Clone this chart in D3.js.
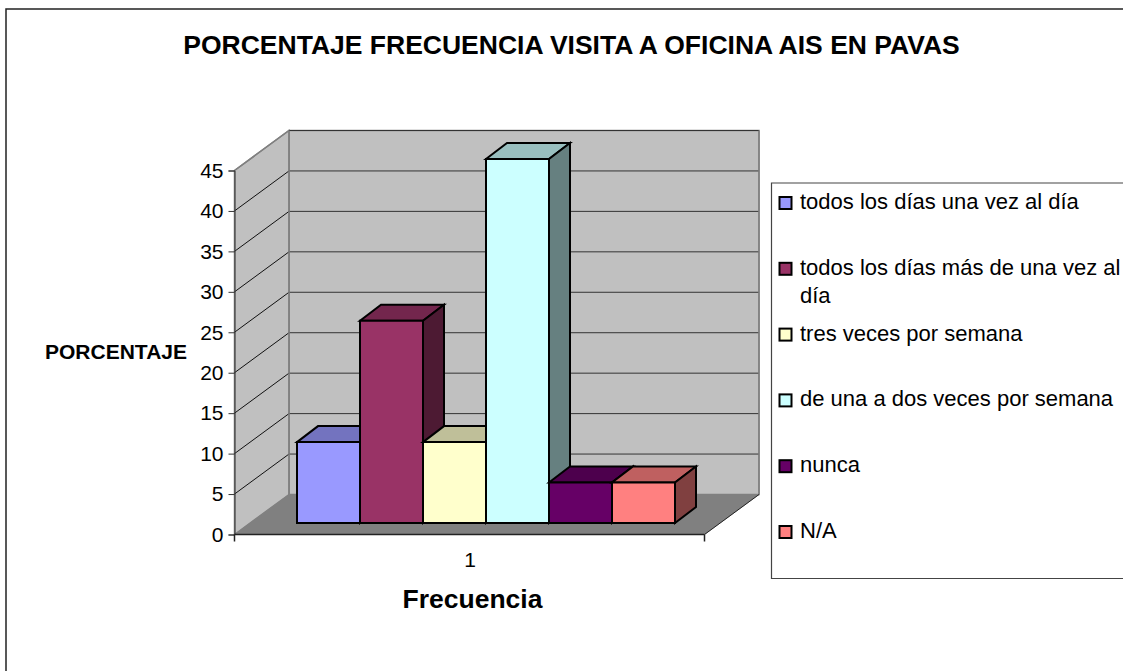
<!DOCTYPE html>
<html>
<head>
<meta charset="utf-8">
<title>Porcentaje frecuencia visita</title>
<script src="https://cdnjs.cloudflare.com/ajax/libs/d3/7.8.5/d3.min.js"></script>
<style>
html, body { margin: 0; padding: 0; background: #fff; overflow: hidden; }
text { font-family: "Liberation Sans", Arial, sans-serif; fill: #000; }
</style>
</head>
<body>
<script>
(function(){

//chart values
var seriesNames = ["todos los días una vez al día", "todos los días más de una vez al día", "tres veces por semana", "de una a dos veces por semana", "nunca", "N/A"];
var seriesValues = [10, 25, 10, 45, 5, 5];
var seriesColors = ["#9999ff", "#993366", "#ffffcc", "#ccffff", "#660066", "#ff8080"];
var topColors = ["#7373bf", "#73264d", "#bfbf99", "#99bfbf", "#4d004d", "#bf6060"];
var sideColors = ["#4d4d80", "#4d1a33", "#808066", "#668080", "#330033", "#804040"];
var yTicks = [0, 5, 10, 15, 20, 25, 30, 35, 40, 45];
var categories = ["1"];

var width = 1123,
    height = 671;

//front plane of the 3d box and how far the walls go back
var plot = {left: 234.5, right: 704.5, bottom: 534.5, top: 170.5, depthX: 54.5, depthY: -40};
//bars stand inside the box, a little behind the front plane
var bar = {left: 297, right: 675, bottom: 523, depthX: 21, depthY: -16};

var svg = d3.select("body")
    .append("svg")
    .attr("width", width)
    .attr("height", height)
    .style("display", "block");

var y = d3.scaleLinear().domain([0, 45]).range([plot.bottom, plot.top]);
//same scale, moved up to where the bars stand
var barY = d3.scaleLinear().domain([0, 45]).range([bar.bottom, bar.bottom - (plot.bottom - plot.top)]);
var x = d3.scaleBand().domain(seriesNames).range([bar.left, bar.right]);
var xCat = d3.scalePoint().domain(categories).range([plot.left, plot.right]).padding(0.5);

function poly(points, fill, stroke, sw){
    return svg.append("polygon")
        .attr("points", points.map(function(p){ return p.join(","); }).join(" "))
        .attr("fill", fill)
        .attr("stroke", stroke)
        .attr("stroke-width", sw);
}

//outer frame, only the top and left show in the picture
svg.append("path")
    .attr("d", "M6,671V9H1123")
    .attr("fill", "none")
    .attr("stroke", "#222")
    .attr("stroke-width", 1.5);

drawBox();
drawAxis();
drawBars();
drawLegend();
drawTitles();

function drawBox(){
    var dx = plot.depthX, dy = plot.depthY;
    //back wall
    poly([[plot.left + dx, plot.top + dy], [plot.right + dx, plot.top + dy], [plot.right + dx, plot.bottom + dy], [plot.left + dx, plot.bottom + dy]], "#c0c0c0", "#808080", 1.5);
    //side wall
    poly([[plot.left, plot.top], [plot.left + dx, plot.top + dy], [plot.left + dx, plot.bottom + dy], [plot.left, plot.bottom]], "#c0c0c0", "#808080", 1.5);

    //gridlines on both walls
    yTicks.slice(1).forEach(function(t){
        var py = y(t);
        svg.append("line").attr("x1", plot.left + dx).attr("x2", plot.right + dx)
            .attr("y1", py + dy).attr("y2", py + dy)
            .attr("stroke", "#333").attr("stroke-width", 1);
        if (t < 45) {
            svg.append("line").attr("x1", plot.left).attr("x2", plot.left + dx)
                .attr("y1", py).attr("y2", py + dy)
                .attr("stroke", "#111").attr("stroke-width", 1);
        }
    });
    svg.append("line").attr("x1", plot.left).attr("x2", plot.left + dx)
        .attr("y1", y(45)).attr("y2", y(45) + dy)
        .attr("stroke", "#808080").attr("stroke-width", 1.5);
    //redraw the back corners over the gridlines
    svg.append("line").attr("x1", plot.left + dx).attr("x2", plot.left + dx)
        .attr("y1", plot.top + dy).attr("y2", plot.bottom + dy)
        .attr("stroke", "#808080").attr("stroke-width", 1.5);
    svg.append("line").attr("x1", plot.right + dx).attr("x2", plot.right + dx)
        .attr("y1", plot.top + dy).attr("y2", plot.bottom + dy)
        .attr("stroke", "#808080").attr("stroke-width", 1.5);

    //floor
    poly([[plot.left, plot.bottom], [plot.left + dx, plot.bottom + dy], [plot.right + dx, plot.bottom + dy], [plot.right, plot.bottom]], "#808080", "#808080", 0.5);
    svg.append("line").attr("x1", plot.right).attr("x2", plot.right + dx)
        .attr("y1", plot.bottom).attr("y2", plot.bottom + dy)
        .attr("stroke", "#222").attr("stroke-width", 1);
}

function drawAxis(){
    var yAxis = d3.axisLeft(y).tickValues(yTicks).tickSize(6).tickPadding(5).tickFormat(d3.format("d"));
    var gy = svg.append("g")
        .attr("transform", "translate(" + plot.left + ",0)")
        .call(yAxis);
    gy.select(".domain").attr("stroke", "#333");
    gy.selectAll(".tick line").attr("stroke", "#333");
    gy.selectAll("text").attr("font-size", 21).attr("font-family", "Liberation Sans");

    var xAxis = d3.axisBottom(xCat).tickSize(0).tickPadding(18);
    var gx = svg.append("g")
        .attr("transform", "translate(0," + plot.bottom + ")")
        .call(xAxis);
    gx.select(".domain").remove();
    gx.selectAll("text").attr("font-size", 21).attr("font-family", "Liberation Sans");

    //bottom front edge with its end ticks
    svg.append("path")
        .attr("d", "M" + plot.left + "," + plot.bottom + "H" + plot.right + "M" + plot.left + "," + plot.bottom + "v7M" + plot.right + "," + plot.bottom + "v7")
        .attr("fill", "none")
        .attr("stroke", "#222")
        .attr("stroke-width", 1.5);
}

function drawBars(){
    var dx = bar.depthX, dy = bar.depthY;
    seriesNames.forEach(function(name, i){
        var x0 = x(name),
            x1 = x0 + x.bandwidth(),
            yTop = barY(seriesValues[i]),
            yBase = barY(0);
        //top
        poly([[x0, yTop], [x0 + dx, yTop + dy], [x1 + dx, yTop + dy], [x1, yTop]], topColors[i], "#000", 2);
        //side
        poly([[x1, yTop], [x1 + dx, yTop + dy], [x1 + dx, yBase + dy], [x1, yBase]], sideColors[i], "#000", 2);
        //front
        poly([[x0, yTop], [x1, yTop], [x1, yBase], [x0, yBase]], seriesColors[i], "#000", 2);
    });
}

function drawLegend(){
    var legendLeft = 771.5, legendTop = 183, legendBottom = 578.5;
    svg.append("path")
        .attr("d", "M1123," + legendTop + "H" + legendLeft + "V" + legendBottom + "H1123")
        .attr("fill", "#fff")
        .attr("stroke", "#444")
        .attr("stroke-width", 1.2);

    var legendY = d3.scalePoint().domain(seriesNames).range([203, 532]);
    var legendLines = {"todos los días más de una vez al día": ["todos los días más de una vez al", "día"]};

    seriesNames.forEach(function(name, i){
        var cy = legendY(name);
        svg.append("rect")
            .attr("x", 779.5).attr("y", cy - 6)
            .attr("width", 12).attr("height", 12)
            .attr("fill", seriesColors[i])
            .attr("stroke", "#000")
            .attr("stroke-width", 2);
        var lines = legendLines[name] || [name];
        lines.forEach(function(line, k){
            svg.append("text")
                .attr("x", 800)
                .attr("y", cy + 6 + k * 28)
                .attr("font-size", 22)
                .text(line);
        });
    });
}

function drawTitles(){
    svg.append("text")
        .attr("x", 571.5).attr("y", 54)
        .attr("text-anchor", "middle")
        .attr("font-size", 26.5).attr("font-weight", "bold")
        .text("PORCENTAJE FRECUENCIA VISITA A OFICINA AIS EN PAVAS");
    svg.append("text")
        .attr("x", 116).attr("y", 359)
        .attr("text-anchor", "middle")
        .attr("font-size", 21).attr("font-weight", "bold")
        .text("PORCENTAJE");
    svg.append("text")
        .attr("x", 472.5).attr("y", 608)
        .attr("text-anchor", "middle")
        .attr("font-size", 26.5).attr("font-weight", "bold")
        .text("Frecuencia");
}

})();
</script>
</body>
</html>
